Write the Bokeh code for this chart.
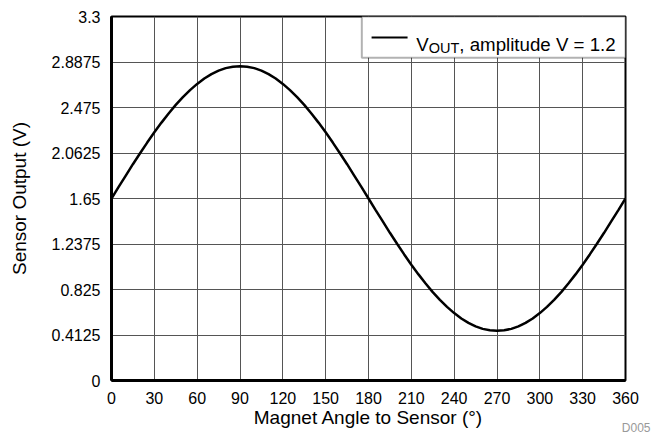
from bokeh.plotting import figure
from bokeh.models import FixedTicker, BoxAnnotation, Label, Range1d, Title
from bokeh.embed import file_html
from bokeh.resources import INLINE

# ---- data ----
angles = list(range(0, 361, 5))
vout = [1.65, 1.755, 1.858, 1.961, 2.060, 2.157, 2.25, 2.338, 2.421, 2.499,
        2.569, 2.633, 2.689, 2.738, 2.778, 2.809, 2.832, 2.845, 2.85, 2.845,
        2.832, 2.809, 2.778, 2.738, 2.689, 2.633, 2.569, 2.499, 2.421, 2.338,
        2.25, 2.157, 2.060, 1.961, 1.858, 1.755, 1.65, 1.545, 1.442, 1.339,
        1.240, 1.143, 1.05, 0.962, 0.879, 0.801, 0.731, 0.667, 0.611, 0.562,
        0.522, 0.491, 0.468, 0.455, 0.45, 0.455, 0.468, 0.491, 0.522, 0.562,
        0.611, 0.667, 0.731, 0.801, 0.879, 0.962, 1.05, 1.143, 1.240, 1.339,
        1.442, 1.545, 1.65]

x_ticks = [0, 30, 60, 90, 120, 150, 180, 210, 240, 270, 300, 330, 360]
y_ticks = [0, 0.4125, 0.825, 1.2375, 1.65, 2.0625, 2.475, 2.8875, 3.3]
y_tick_labels = ["0", "0.4125", "0.825", "1.2375", "1.65", "2.0625", "2.475", "2.8875", "3.3"]

legend_main = "V"
legend_sub = "OUT"
legend_rest = ", amplitude V = 1.2"
x_title = "Magnet Angle to Sensor (°)"
y_title = "Sensor Output (V)"
doc_id = "D005"

FONT = "Liberation Sans"
X_MIN, X_MAX = 0, 360
Y_MIN, Y_MAX = 0, 3.3

p = figure(width=653, height=438, output_backend="svg", toolbar_location=None,
           x_range=Range1d(X_MIN, X_MAX), y_range=Range1d(Y_MIN, Y_MAX),
           min_border_left=111, min_border_right=28, min_border_top=16, min_border_bottom=58)

p.outline_line_color = "black"
p.outline_line_width = 2
p.outline_line_alpha = 1

for ax in (p.xaxis[0], p.yaxis[0]):
    ax.axis_line_color = "black"
    ax.axis_line_width = 3
    ax.major_tick_line_color = None
    ax.minor_tick_line_color = None
    ax.major_tick_out = 0
    ax.major_tick_in = 0
    ax.major_label_text_font = FONT
    ax.major_label_text_font_size = "16px"
    ax.major_label_text_color = "black"
    ax.axis_label_text_font = FONT
    ax.axis_label_text_font_size = "19px"
    ax.axis_label_text_font_style = "normal"
    ax.axis_label_text_color = "black"

p.xaxis.ticker = FixedTicker(ticks=x_ticks)
p.yaxis.ticker = FixedTicker(ticks=y_ticks)
p.yaxis.major_label_overrides = {t: l for t, l in zip(y_ticks, y_tick_labels)}
p.xaxis.axis_label = x_title
p.yaxis.axis_label = y_title
p.xaxis.major_label_standoff = 11
p.yaxis.major_label_standoff = 11
p.xaxis.axis_label_standoff = 0
p.yaxis.axis_label_standoff = 19

p.xgrid.ticker = FixedTicker(ticks=x_ticks)
p.ygrid.ticker = FixedTicker(ticks=y_ticks)
p.grid.grid_line_color = "#555555"
p.grid.grid_line_width = 1

p.line(angles, vout, line_color="black", line_width=2.5)

# ---- legend (hand-built to allow the subscript) ----
span_x = X_MAX - X_MIN
span_y = Y_MAX - Y_MIN
leg_left = X_MIN + 0.487 * span_x
leg_bottom = Y_MIN + 0.887 * span_y
box = BoxAnnotation(left=leg_left, right=X_MAX, bottom=leg_bottom, top=Y_MAX,
                    fill_color="white", fill_alpha=1, line_color="black",
                    line_width=2, level="underlay")
p.add_layout(box)

line_y = Y_MIN + 0.942 * span_y
p.segment(x0=[X_MIN + 0.506 * span_x], x1=[X_MIN + 0.576 * span_x],
          y0=[line_y], y1=[line_y], line_color="black", line_width=2)

text_x = X_MIN + 0.593 * span_x
text_y = Y_MIN + 0.922 * span_y
p.add_layout(Label(x=text_x, y=text_y, text=legend_main, text_font=FONT,
                   text_font_size="18.7px", text_color="black", text_baseline="alphabetic"))
p.add_layout(Label(x=text_x, y=text_y, x_offset=12.5, y_offset=-3, text=legend_sub,
                   text_font=FONT, text_font_size="14.5px", text_color="black",
                   text_baseline="alphabetic"))
p.add_layout(Label(x=text_x, y=text_y, x_offset=43, text=legend_rest, text_font=FONT,
                   text_font_size="18.7px", text_color="black", text_baseline="alphabetic"))

# document id, bottom right outside the plot area
p.add_layout(Title(text=doc_id, align="right", vertical_align="top", offset=-25,
                   standoff=-20, text_font=FONT, text_font_size="12px",
                   text_color="#999999", text_font_style="normal"), "below")

open("out.html", "w").write(file_html(p, INLINE))
